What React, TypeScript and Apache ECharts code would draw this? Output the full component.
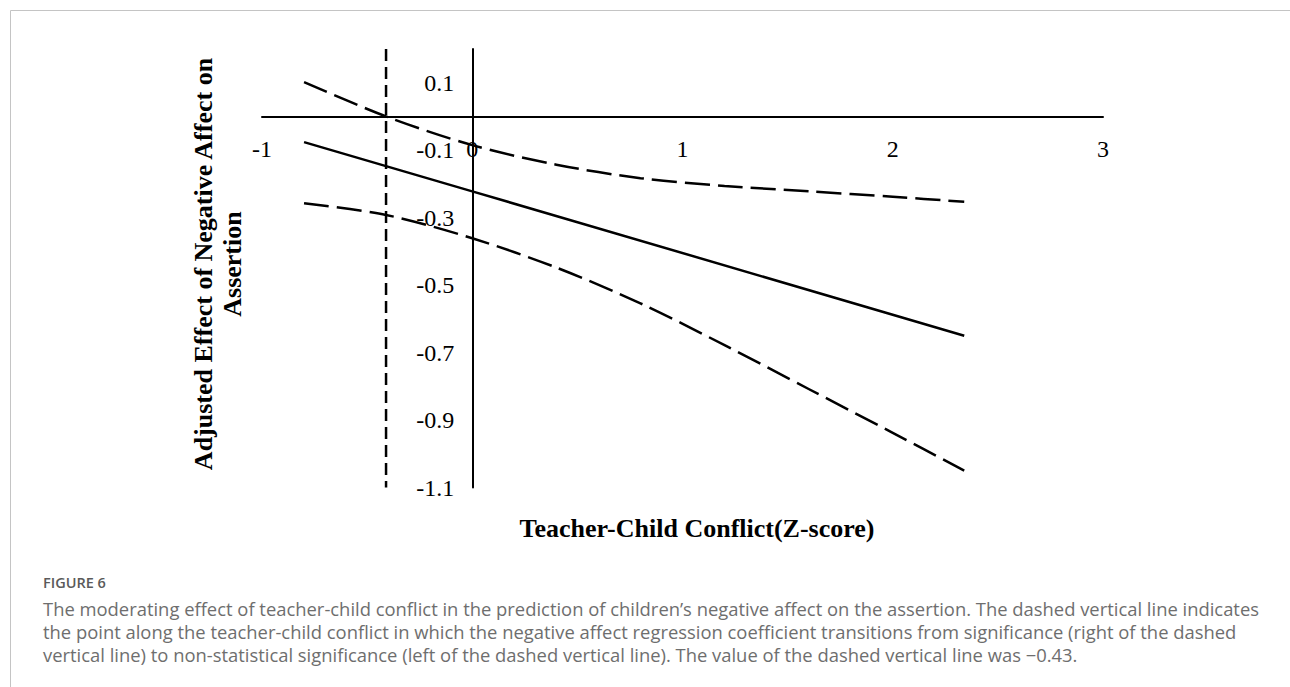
import React, { useEffect, useRef } from "react";
import * as echarts from "echarts";

// ---- data ----
const X_MIN = -1;
const X_MAX = 3;
const Y_MIN = -1.1;
const Y_MAX = 0.2;

// Johnson-Neyman point (dashed vertical line) as drawn
const JN_POINT = -0.41;

// confidence band x positions and bounds
const X_CI = [-0.8, -0.41, 0, 0.4, 0.8, 1.2, 1.6, 2.0, 2.34];
const UPPER = [0.102, 0.0, -0.085, -0.143, -0.183, -0.206, -0.222, -0.238, -0.253];
const LOWER = [-0.257, -0.292, -0.361, -0.448, -0.554, -0.678, -0.808, -0.938, -1.05];

// fitted simple slope line
const X_FIT = [-0.8, 0, 2.34];
const FIT = [-0.076, -0.222, -0.65];

const Y_TITLE = "Adjusted Effect of Negative Affect on\nAssertion";
const X_TITLE = "Teacher-Child Conflict(Z-score)";
const FIG_LABEL = "FIGURE 6";
const CAPTION_LINES = [
  "The moderating effect of teacher-child conflict in the prediction of children\u2019s negative affect on the assertion. The dashed vertical line indicates",
  "the point along the teacher-child conflict in which the negative affect regression coefficient transitions from significance (right of the dashed",
  "vertical line) to non-statistical significance (left of the dashed vertical line). The value of the dashed vertical line was \u22120.43.",
];

const SERIF = "'Liberation Serif', 'Times New Roman', serif";
const SANS = "'Open Sans', Lato, sans-serif";

// plot rectangle
const GRID_LEFT = 262;
const GRID_RIGHT = 187;
const GRID_TOP = 49;
const GRID_BOTTOM = 199.5;
const W = 1290;
const H = 687;

export default function App() {
  const ref = useRef<HTMLDivElement>(null);

  useEffect(() => {
    if (!ref.current) return;
    const chart = echarts.init(ref.current, undefined, { renderer: "svg" });

    const pairs = (xs: number[], ys: number[]) => xs.map((x, i) => [x, ys[i]]);

    // place axes so that they cross at the origin (lines and labels together)
    const plotW = W - GRID_LEFT - GRID_RIGHT;
    const plotH = H - GRID_TOP - GRID_BOTTOM;
    const zeroX = GRID_LEFT + ((0 - X_MIN) / (X_MAX - X_MIN)) * plotW;
    const zeroY = GRID_TOP + ((Y_MAX - 0) / (Y_MAX - Y_MIN)) * plotH;
    const xAxisOffset = -(H - GRID_BOTTOM - zeroY);
    const yAxisOffset = -(zeroX - GRID_LEFT);

    const dashedCI = {
      color: "#000",
      width: 2.5,
      type: [25, 8] as any,
    };

    const option: any = {
      animation: false,
      backgroundColor: "#fff",
      grid: {
        left: GRID_LEFT,
        right: GRID_RIGHT,
        top: GRID_TOP,
        bottom: GRID_BOTTOM,
        containLabel: false,
        outerBoundsMode: "none",
      },
      xAxis: {
        type: "value",
        position: "bottom",
        offset: xAxisOffset,
        min: X_MIN,
        max: X_MAX,
        interval: 1,
        axisLine: { show: true, onZero: false, lineStyle: { color: "#000", width: 2 } },
        axisTick: { show: false },
        splitLine: { show: false },
        axisLabel: {
          margin: 21,
          fontSize: 24,
          fontFamily: SERIF,
          color: "#000",
          showMinLabel: true,
          showMaxLabel: true,
        },
      },
      yAxis: {
        type: "value",
        position: "left",
        offset: yAxisOffset,
        min: Y_MIN,
        max: Y_MAX,
        interval: 0.2,
        axisLine: { show: true, onZero: false, lineStyle: { color: "#000", width: 2 } },
        axisTick: { show: false },
        splitLine: { show: false },
        axisLabel: {
          margin: 18,
          fontSize: 24,
          fontFamily: SERIF,
          color: "#000",
          showMaxLabel: false,
          formatter: (v: number) => (Math.abs(v - Y_MAX) < 1e-6 ? "" : v.toFixed(1)),
        },
      },
      series: [
        {
          type: "line",
          data: pairs(X_CI, UPPER),
          smooth: 0.3,
          showSymbol: false,
          symbol: "none",
          lineStyle: dashedCI,
          z: 3,
        },
        {
          type: "line",
          data: pairs(X_CI, LOWER),
          smooth: 0.3,
          showSymbol: false,
          symbol: "none",
          lineStyle: dashedCI,
          z: 3,
        },
        {
          type: "line",
          data: pairs(X_FIT, FIT),
          showSymbol: false,
          symbol: "none",
          lineStyle: { color: "#000", width: 2.5, type: "solid" },
          z: 3,
        },
        {
          type: "line",
          data: [
            [JN_POINT, Y_MAX],
            [JN_POINT, Y_MIN],
          ],
          showSymbol: false,
          symbol: "none",
          lineStyle: { color: "#000", width: 2.5, type: [12, 6] as any },
          z: 3,
        },
      ],
      graphic: [
        {
          type: "polyline",
          silent: true,
          shape: {
            points: [
              [10.5, 700],
              [10.5, 10.5],
              [1300, 10.5],
            ],
          },
          style: { stroke: "#c4c4c4", lineWidth: 1, fill: null },
        },
        {
          type: "text",
          x: 218,
          y: 264,
          rotation: Math.PI / 2,
          style: {
            text: Y_TITLE,
            font: `bold 26px ${SERIF}`,
            fill: "#000",
            align: "center",
            verticalAlign: "middle",
            lineHeight: 29,
          },
        },
        {
          type: "text",
          x: 697,
          y: 528,
          style: {
            text: X_TITLE,
            font: `bold 26px ${SERIF}`,
            fill: "#000",
            align: "center",
            verticalAlign: "middle",
          },
        },
        {
          type: "text",
          x: 43,
          y: 582,
          style: {
            text: FIG_LABEL,
            font: `600 14.5px ${SANS}`,
            fill: "#5a5a5a",
            align: "left",
            verticalAlign: "middle",
          },
        },
        ...CAPTION_LINES.map((line, i) => ({
          type: "text",
          x: 43,
          y: 608 + i * 23,
          style: {
            text: line,
            font: `18.4px ${SANS}`,
            fill: "#6e6e6e",
            align: "left",
            verticalAlign: "middle",
          },
        })),
      ],
    };

    chart.setOption(option);
    return () => chart.dispose();
  }, []);

  return (
    <div
      ref={ref}
      style={{ position: "absolute", left: 0, top: 0, width: W, height: H, background: "#fff" }}
    />
  );
}
